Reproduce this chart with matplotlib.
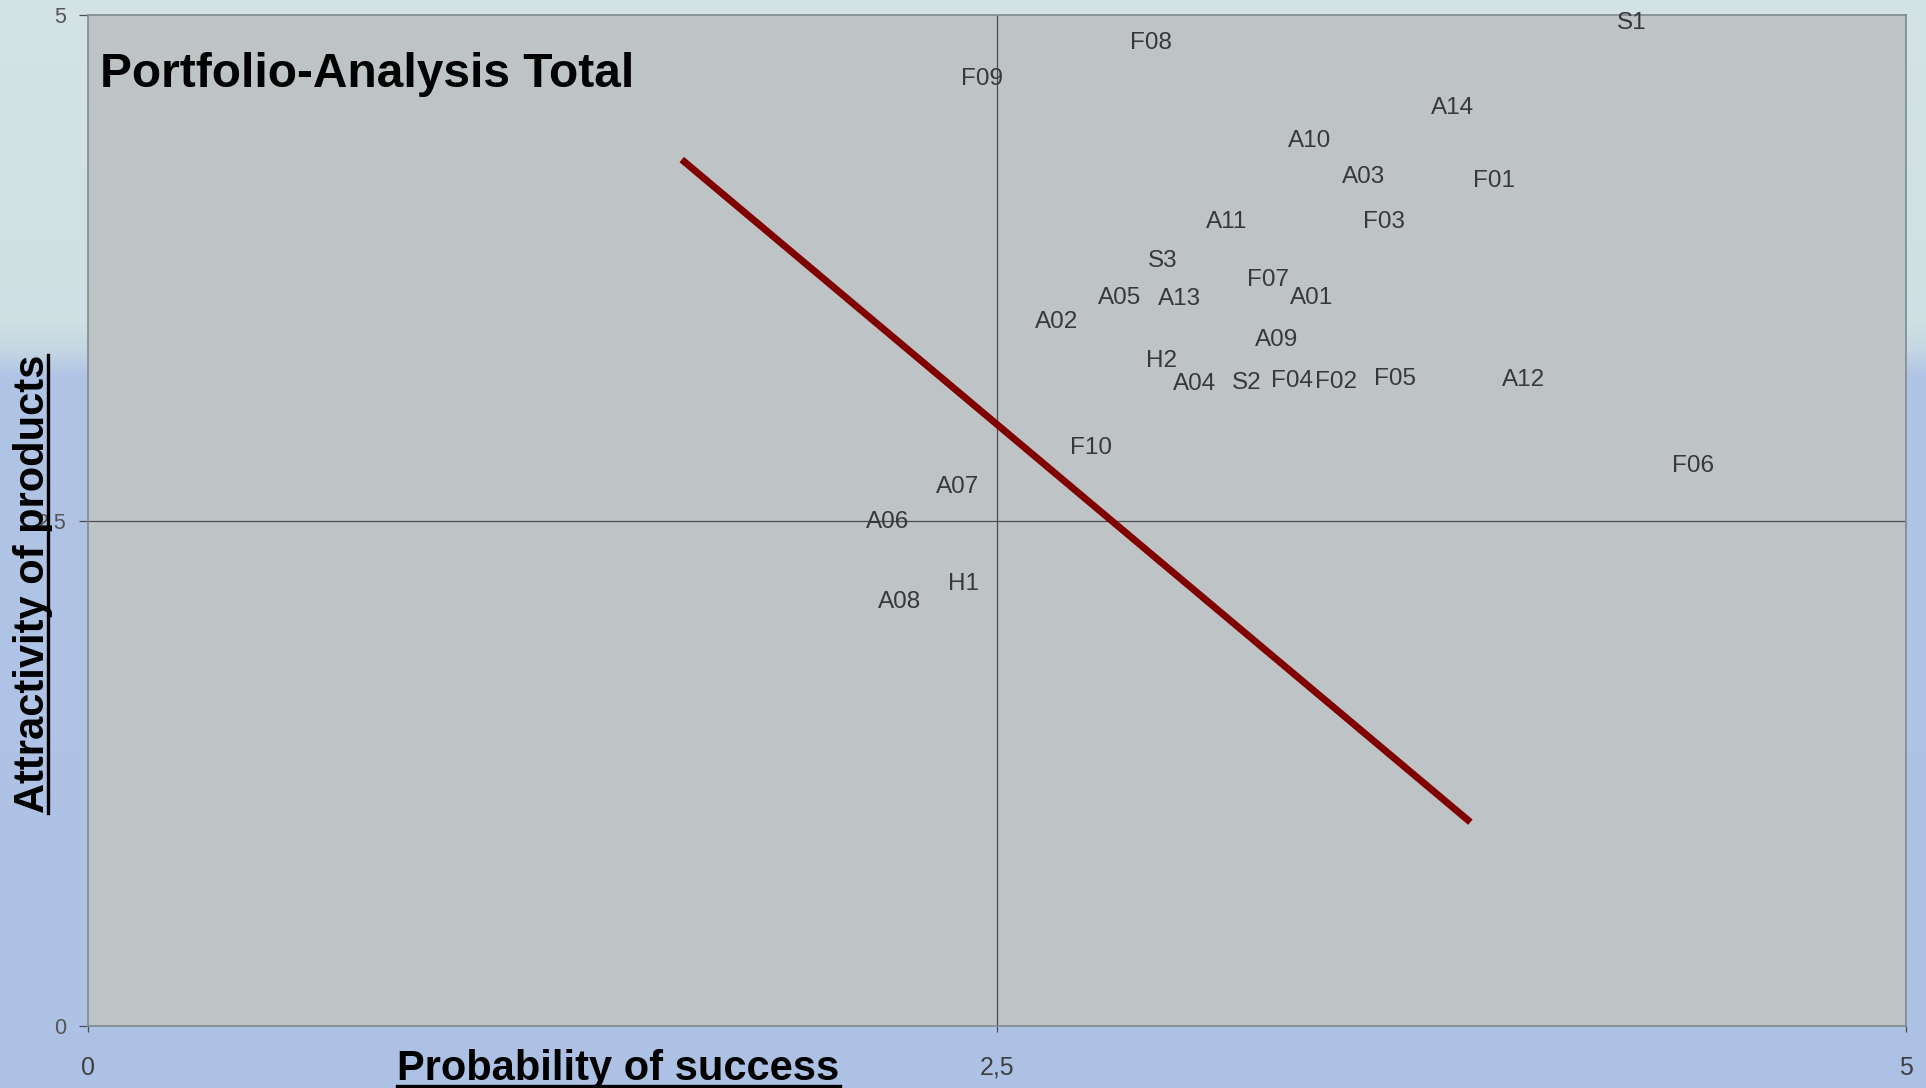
import numpy as np
import matplotlib.pyplot as plt
from matplotlib.lines import Line2D

# product codes with probability of success (x) and attractivity (y)
products = ['S1', 'F08', 'F09', 'A14', 'A10', 'A03', 'F01', 'A11', 'F03', 'S3',
            'F07', 'A05', 'A13', 'A01', 'A02', 'A09', 'H2', 'A04', 'S2', 'F04',
            'F02', 'F05', 'A12', 'F10', 'F06', 'A07', 'A06', 'H1', 'A08']
probability = [4.245, 2.924, 2.458, 3.753, 3.360, 3.509, 3.868, 3.131, 3.565, 2.957,
               3.246, 2.837, 3.002, 3.364, 2.665, 3.269, 2.952, 3.043, 3.186, 3.311,
               3.432, 3.594, 3.948, 2.759, 4.413, 2.391, 2.200, 2.407, 2.233]
attractivity = [4.975, 4.873, 4.695, 4.550, 4.391, 4.213, 4.193, 3.990, 3.990, 3.798,
                3.704, 3.612, 3.608, 3.613, 3.496, 3.407, 3.299, 3.188, 3.193, 3.202,
                3.197, 3.210, 3.205, 2.872, 2.782, 2.676, 2.505, 2.200, 2.110]

# dividing line between the portfolio segments
split_x = [1.633, 3.802]
split_y = [4.285, 1.008]

ticks = [0, 2.5, 5]
tick_labels = ['0', '2,5', '5']

plt.rcParams['font.family'] = ['Liberation Sans', 'DejaVu Sans']

W, H = 1926, 1088
fig = plt.figure(figsize=(W / 100, H / 100), dpi=100)

# backdrop: pale cyan at the top, fading into blue below
bg = fig.add_axes([0, 0, 1, 1], zorder=-10)
bg.axis('off')
rows = np.arange(H)
stops = [0, 320, 350, 375, H]
reds = np.interp(rows, stops, [0.83, 0.81, 0.77, 0.69, 0.68])
greens = np.interp(rows, stops, [0.89, 0.88, 0.84, 0.77, 0.76])
blues = np.interp(rows, stops, [0.90, 0.89, 0.89, 0.90, 0.90])
grad = np.dstack([reds, greens, blues]).reshape(H, 1, 3)
bg.imshow(grad, aspect='auto', extent=[0, 1, 0, 1])

ax = fig.add_axes([88 / W, (H - 1026) / H, 1818 / W, 1011 / H])
ax.set_facecolor('#bec3c6')
ax.set_xlim(0, 5)
ax.set_ylim(0, 5)

for s in ax.spines.values():
    s.set_color('#7f8b90')
    s.set_linewidth(1.2)

ax.axhline(2.5, color='#4d4d4d', lw=0.9, zorder=1)
ax.axvline(2.5, color='#4d4d4d', lw=0.9, zorder=1)

ax.set_xticks(ticks)
ax.set_xticklabels(tick_labels)
ax.set_yticks(ticks)
ax.set_yticklabels(tick_labels)
ax.tick_params(axis='x', length=4.3, width=0.9, color='#4d4d4d', pad=17,
               labelsize=18, labelcolor='#3f3f3f')
ax.tick_params(axis='y', length=6.5, width=0.9, color='#4d4d4d', pad=9,
               labelsize=15.5, labelcolor='#555555')

ax.plot(split_x, split_y, color='#800000', lw=5, solid_capstyle='butt', zorder=3)

for name, x, y in zip(products, probability, attractivity):
    ax.text(x, y, name, ha='center', va='center_baseline', fontsize=17.5,
            color='#383838', zorder=4, clip_on=False)

ax.text(0.0065, 0.9288, 'Portfolio-Analysis Total', transform=ax.transAxes,
        fontsize=34.5, fontweight='bold', ha='left', va='baseline')

xl = fig.text(618.5 / W, 8 / H, 'Probability of success', ha='center',
              va='baseline', fontsize=30, fontweight='bold')
yl = fig.text(44 / W, 1 - 584 / H, 'Attractivity of products', rotation=90,
              rotation_mode='anchor', ha='center', va='baseline',
              fontsize=30, fontweight='bold', zorder=5)

# underline both axis titles
fig.canvas.draw()
r = fig.canvas.get_renderer()
bx = xl.get_window_extent(r)
by = yl.get_window_extent(r)
fig.add_artist(Line2D([bx.x0 / W, bx.x1 / W], [2 / H, 2 / H],
                      transform=fig.transFigure, color='black', lw=2.4))
fig.add_artist(Line2D([47.5 / W, 47.5 / W], [by.y0 / H, by.y1 / H],
                      transform=fig.transFigure, color='black', lw=2.4))

fig.savefig('out.png', dpi=100)
